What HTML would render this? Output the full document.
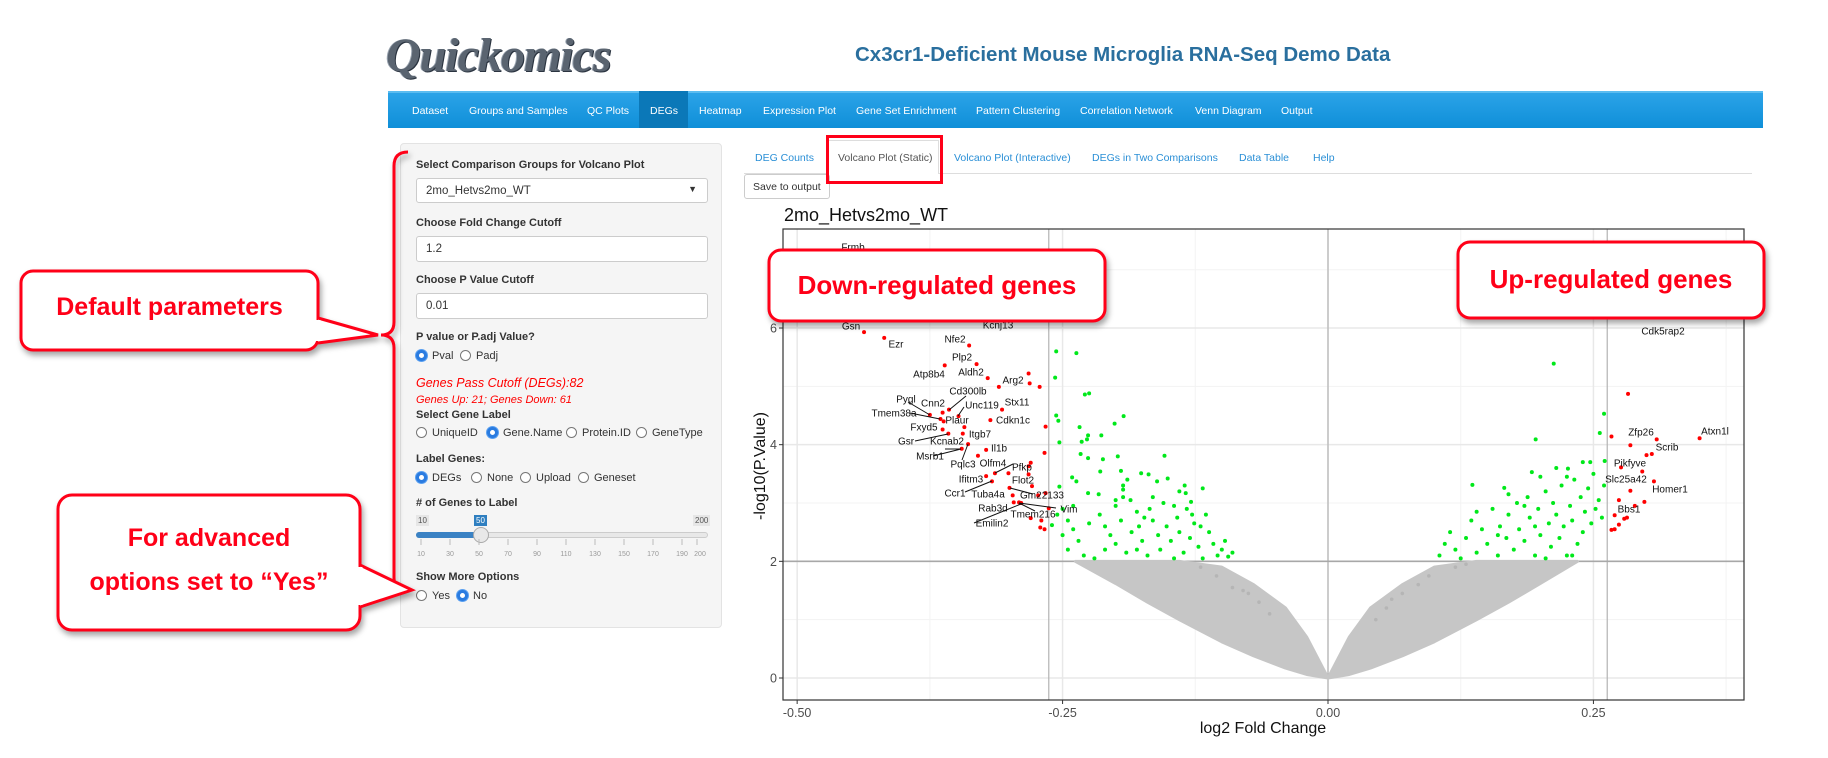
<!DOCTYPE html>
<html><head><meta charset="utf-8">
<style>
*{box-sizing:border-box;margin:0;padding:0}
body{width:1828px;height:758px;background:#fff;position:relative;overflow:hidden;font-family:"Liberation Sans",sans-serif;color:#333}
.abs{position:absolute}
.nav{left:388px;top:91px;width:1375px;height:37px;background:linear-gradient(#2ba3e8,#0f8fd8);border-top:2px solid #5bbcf0}
.nav span{position:absolute;top:12px;font-size:10.5px;color:#fff;white-space:nowrap}
.panel{left:400px;top:143px;width:322px;height:485px;background:#f5f5f5;border:1px solid #e3e3e3;border-radius:4px}
.lbl{position:absolute;left:15px;font-size:11px;font-weight:bold;color:#333;white-space:nowrap}
.inp{position:absolute;left:15px;width:292px;height:26px;background:#fff;border:1px solid #ccc;border-radius:3px;font-size:11.5px;padding:6px 9px}
.rad{position:absolute;font-size:11px;white-space:nowrap;color:#333}
.rad i{display:inline-block;width:11px;height:11px;border:1px solid #777;border-radius:50%;vertical-align:-2px;margin-right:5px;background:#fff}
.rad i.on{border:3px solid #2a7be0;background:#fff;box-shadow:0 0 0 1px #5aa0f0}
.tab{position:absolute;top:152px;font-size:10.5px;color:#2a8fd6;white-space:nowrap}
.call{position:absolute;color:#ff0018;font-weight:bold;text-align:center;white-space:nowrap}
</style></head><body>

<div class="abs" style="left:386px;top:28px;font-family:'Liberation Serif',serif;font-style:italic;font-weight:bold;font-size:48px;color:#5a6470;letter-spacing:-1px;text-shadow:1px 1px 0 #2b3440,-1px 0 0 #9aa4b0">Quickomics</div>
<div class="abs" style="left:855px;top:43px;font-size:20.5px;font-weight:bold;color:#2a6f9e;white-space:nowrap">Cx3cr1-Deficient Mouse Microglia RNA-Seq Demo Data</div>

<div class="abs nav">
<div class="abs" style="left:251px;top:-2px;width:49px;height:37px;background:#0b78b8"></div>
<span style="left:24px">Dataset</span>
<span style="left:81px">Groups and Samples</span>
<span style="left:199px">QC Plots</span>
<span style="left:262px">DEGs</span>
<span style="left:311px">Heatmap</span>
<span style="left:375px">Expression Plot</span>
<span style="left:468px">Gene Set Enrichment</span>
<span style="left:588px">Pattern Clustering</span>
<span style="left:692px">Correlation Network</span>
<span style="left:807px">Venn Diagram</span>
<span style="left:893px">Output</span>
</div>

<div class="abs panel">
<div class="lbl" style="top:15px">Select Comparison Groups for Volcano Plot</div>
<div class="inp" style="top:34px;height:25px">2mo_Hetvs2mo_WT<span style="position:absolute;right:10px;top:5px;font-size:9px">&#9660;</span></div>
<div class="lbl" style="top:73px">Choose Fold Change Cutoff</div>
<div class="inp" style="top:92px">1.2</div>
<div class="lbl" style="top:130px">Choose P Value Cutoff</div>
<div class="inp" style="top:149px">0.01</div>
<div class="lbl" style="top:187px">P value or P.adj Value?</div>
<div class="rad" style="left:15px;top:206px"><i class="on"></i>Pval</div>
<div class="rad" style="left:59px;top:206px"><i></i>Padj</div>
<div class="abs" style="left:15px;top:232px;font-size:12.5px;font-style:italic;color:#ff0000;white-space:nowrap">Genes Pass Cutoff (DEGs):82</div>
<div class="abs" style="left:15px;top:250px;font-size:11px;font-style:italic;color:#ff0000;white-space:nowrap">Genes Up: 21; Genes Down: 61</div>
<div class="lbl" style="top:265px">Select Gene Label</div>
<div class="rad" style="left:15px;top:283px"><i></i>UniqueID</div>
<div class="rad" style="left:86px;top:283px"><i class="on"></i>Gene.Name</div>
<div class="rad" style="left:165px;top:283px"><i></i>Protein.ID</div>
<div class="rad" style="left:235px;top:283px"><i></i>GeneType</div>
<div class="lbl" style="top:309px">Label Genes:</div>
<div class="rad" style="left:15px;top:328px"><i class="on"></i>DEGs</div>
<div class="rad" style="left:70px;top:328px"><i></i>None</div>
<div class="rad" style="left:119px;top:328px"><i></i>Upload</div>
<div class="rad" style="left:177px;top:328px"><i></i>Geneset</div>
<div class="lbl" style="top:353px"># of Genes to Label</div>
<div class="abs" style="left:15px;top:371px;font-size:8px;background:#e6e6e6;padding:1px 2px;color:#555">10</div>
<div class="abs" style="left:73px;top:371px;font-size:8px;background:#2f7fc0;padding:1px 2px;color:#fff">50</div>
<div class="abs" style="left:292px;top:371px;font-size:8px;background:#e6e6e6;padding:1px 2px;color:#555">200</div>
<div class="abs" style="left:15px;top:388px;width:292px;height:6px;border-radius:3px;background:#e8e8e8;border:1px solid #ccc"></div>
<div class="abs" style="left:15px;top:388px;width:65px;height:6px;border-radius:3px;background:#3a82c4"></div>
<div class="abs" style="left:72px;top:383px;width:16px;height:16px;border-radius:50%;background:#e8e8e8;border:1px solid #aaa"></div>
<svg class="abs" style="left:15px;top:395px" width="295" height="20">
<g stroke="#bbb"><line x1="5" y1="0" x2="5" y2="6"/><line x1="34" y1="0" x2="34" y2="6"/><line x1="63" y1="0" x2="63" y2="6"/><line x1="92" y1="0" x2="92" y2="6"/><line x1="121" y1="0" x2="121" y2="6"/><line x1="150" y1="0" x2="150" y2="6"/><line x1="179" y1="0" x2="179" y2="6"/><line x1="208" y1="0" x2="208" y2="6"/><line x1="237" y1="0" x2="237" y2="6"/><line x1="266" y1="0" x2="266" y2="6"/><line x1="281" y1="0" x2="281" y2="6"/></g>
<g font-size="7" fill="#999" text-anchor="middle"><text x="5" y="17">10</text><text x="34" y="17">30</text><text x="63" y="17">50</text><text x="92" y="17">70</text><text x="121" y="17">90</text><text x="150" y="17">110</text><text x="179" y="17">130</text><text x="208" y="17">150</text><text x="237" y="17">170</text><text x="266" y="17">190</text><text x="284" y="17">200</text></g></svg>
<div class="lbl" style="top:427px">Show More Options</div>
<div class="rad" style="left:15px;top:446px"><i></i>Yes</div>
<div class="rad" style="left:56px;top:446px"><i class="on"></i>No</div>
</div>

<div class="abs" style="left:744px;top:173px;width:1008px;height:1px;background:#ddd"></div>
<div class="abs" style="left:827px;top:140px;width:112px;height:34px;border:1px solid #ddd;border-bottom:none;background:#fff"></div>
<span class="tab" style="left:755px">DEG Counts</span>
<span class="tab" style="left:838px;color:#555">Volcano Plot (Static)</span>
<span class="tab" style="left:954px">Volcano Plot (Interactive)</span>
<span class="tab" style="left:1092px">DEGs in Two Comparisons</span>
<span class="tab" style="left:1239px">Data Table</span>
<span class="tab" style="left:1313px">Help</span>
<div class="abs" style="left:744px;top:174px;width:86px;height:25px;border:1px solid #ccc;border-radius:3px;font-size:10.5px;padding:6px 8px;white-space:nowrap;background:#fff">Save to output</div>
<div class="abs" style="left:826px;top:135px;width:117px;height:49px;border:3px solid #ff0018"></div>
<div class="abs" style="left:784px;top:205px;font-size:18px;color:#111;white-space:nowrap">2mo_Hetvs2mo_WT</div>

<svg id="chart" class="abs" style="left:0;top:0" width="1828" height="758"></svg>

<svg class="abs" style="left:0;top:0;filter:drop-shadow(2px 4px 3px rgba(0,0,0,0.35))" width="1828" height="758">
<path d="M408,152 Q394,152 394,166 L394,322 Q394,335 381,335 Q394,335 394,348 L394,578 Q394,590 408,590" fill="none" stroke="#ff0018" stroke-width="3"/>
<g><rect x="21" y="271" width="297" height="79" rx="12" fill="#fff" stroke="#ff0018" stroke-width="3"/><path d="M318,318 L378,335 L318,343" fill="#fff" stroke="#ff0018" stroke-width="3"/><line x1="318" y1="320" x2="318" y2="341" stroke="#fff" stroke-width="5"/></g>
<g><rect x="58" y="495" width="302" height="135" rx="14" fill="#fff" stroke="#ff0018" stroke-width="3"/><path d="M360,565 L412,590 L360,607" fill="#fff" stroke="#ff0018" stroke-width="3"/><line x1="360" y1="567" x2="360" y2="605" stroke="#fff" stroke-width="5"/></g>
<rect x="769" y="250" width="336" height="71" rx="12" fill="#fff" stroke="#ff0018" stroke-width="3"/>
<rect x="1458" y="242" width="306" height="76" rx="12" fill="#fff" stroke="#ff0018" stroke-width="3"/>
</svg>
<div class="call" style="left:21px;top:293px;width:297px;font-size:25px">Default parameters</div>
<div class="call" style="left:58px;top:516px;width:302px;font-size:25px;line-height:44px">For advanced<br>options set to “Yes”</div>
<div class="call" style="left:769px;top:270px;width:336px;font-size:26px">Down-regulated genes</div>
<div class="call" style="left:1458px;top:264px;width:306px;font-size:26px">Up-regulated genes</div>

<script>
// ---- chart data ----
const xTicks = [-0.5, -0.25, 0, 0.25];
const xTickLabels = ["-0.50", "-0.25", "0.00", "0.25"];
const yTicks = [0, 2, 4, 6];
const yTickLabels = ["0", "2", "4", "6"];
const fcCutoff = 0.263;
const pCutoff = 2;
const cloudLeftX = [-0.238, -0.2, -0.17, -0.14, -0.1, -0.07, -0.04, -0.02, 0];
const cloudLeftLow = [2.0, 1.62, 1.3, 1.0, 0.62, 0.38, 0.17, 0.06, 0];
const cloudLeftHigh = [2.0, 2.0, 2.0, 2.0, 1.9, 1.6, 1.2, 0.7, 0];
const cloudRightX = [0, 0.02, 0.04, 0.07, 0.1, 0.14, 0.17, 0.2, 0.235];
const cloudRightLow = [0, 0.06, 0.17, 0.38, 0.62, 1.0, 1.3, 1.62, 2.0];
const cloudRightHigh = [0, 0.7, 1.2, 1.6, 1.9, 2.0, 2.0, 2.0, 2.0];
const grayX = [-0.12, -0.105, -0.09, -0.08, -0.075, -0.065, -0.055, 0.045, 0.055, 0.06, 0.07, 0.085, 0.095, 0.12, 0.13];
const grayY = [1.9, 1.75, 1.55, 1.5, 1.45, 1.3, 1.1, 1.0, 1.2, 1.35, 1.45, 1.6, 1.75, 1.9, 1.95];
const greenX = [-0.256,-0.237,-0.257,-0.229,-0.225,-0.256,-0.254,-0.1925,-0.201,-0.234,-0.253,-0.232,-0.227,-0.226,-0.2135,-0.233,-0.226,-0.212,-0.198,-0.154,-0.2145,-0.195,-0.241,-0.237,-0.176,-0.169,-0.189,-0.151,-0.161,-0.193,-0.193,-0.118,-0.226,-0.216,-0.134,-0.129,-0.193,-0.253,
-0.25,-0.255,-0.245,-0.26,-0.24,-0.25,-0.235,-0.245,-0.23,-0.22,-0.215,-0.21,-0.205,-0.2,-0.2,-0.195,-0.19,-0.185,-0.18,-0.178,-0.175,-0.17,-0.168,-0.165,-0.16,-0.158,-0.155,-0.152,-0.148,-0.145,-0.142,-0.14,-0.136,-0.133,-0.13,-0.126,-0.122,-0.118,-0.115,-0.112,-0.108,-0.104,-0.1,-0.097,-0.094,-0.09,-0.186,-0.173,-0.21,-0.225,-0.145,-0.128,-0.2,-0.165,-0.14,-0.24,-0.18,-0.12,-0.135,
0.2126,0.1956,0.26,0.256,0.247,0.2606,0.192,0.226,0.136,0.166,
0.105,0.11,0.115,0.12,0.125,0.13,0.135,0.14,0.145,0.15,0.155,0.16,0.162,0.168,0.17,0.175,0.178,0.18,0.185,0.188,0.19,0.195,0.198,0.2,0.205,0.208,0.21,0.212,0.215,0.218,0.22,0.222,0.225,0.228,0.23,0.232,0.235,0.238,0.24,0.242,0.245,0.248,0.25,0.252,0.255,0.258,0.26,0.185,0.17,0.2,0.215,0.16,0.195,0.23,0.14,0.205,0.24,0.225];
const greenY = [5.60,5.57,5.15,4.86,4.88,4.50,4.41,4.49,4.36,4.30,4.04,4.05,4.09,4.16,4.16,3.84,3.77,3.75,3.80,3.81,3.54,3.55,3.44,3.37,3.51,3.49,3.40,3.42,3.37,3.30,3.23,3.25,3.17,3.15,3.17,3.02,3.10,3.28,
2.9,2.8,2.7,2.62,2.55,2.45,2.35,2.2,2.1,2.05,2.8,2.6,2.45,2.3,2.95,2.7,2.15,2.5,2.85,2.6,2.35,2.1,2.9,2.7,2.45,2.2,3.0,2.6,2.35,2.05,2.75,2.5,2.15,2.9,2.4,2.65,2.25,2.05,2.8,2.5,2.3,2.1,2.2,2.35,2.08,2.15,3.05,2.75,2.2,2.65,2.95,2.8,3.05,3.1,3.2,2.95,2.2,2.6,3.3,
5.39,4.09,4.53,4.20,3.70,3.72,3.53,3.59,3.31,3.26,
2.1,2.3,2.5,2.2,2.05,2.4,2.7,2.15,2.55,2.3,2.9,2.1,2.6,2.4,2.8,2.2,3.0,2.55,2.35,3.1,2.75,2.1,2.9,2.45,3.2,2.65,2.25,3.0,2.8,2.4,3.3,2.6,2.1,2.95,2.7,3.4,2.3,3.1,2.5,2.85,3.25,2.65,3.5,2.9,3.05,2.75,3.3,2.95,3.15,3.45,3.6,2.45,2.6,2.1,2.85,2.05,3.7,3.45];
const redX = [-0.437,-0.418,-0.338,-0.331,-0.361,-0.3205,-0.282,-0.281,-0.310,-0.2716,-0.357,-0.307,-0.363,-0.375,-0.348,-0.365,-0.362,-0.318,-0.266,-0.363,-0.3425,-0.344,-0.3576,-0.339,-0.345,-0.322,-0.267,-0.3297,-0.280,-0.282,-0.282,-0.3137,-0.301,-0.322,-0.3165,-0.2788,-0.300,-0.297,-0.273,-0.266,-0.296,-0.291,-0.289,-0.263,-0.280,-0.270,-0.271,-0.267,
0.2826,0.267,0.3096,0.350,0.2848,0.305,0.300,0.276,0.296,0.307,0.2848,0.274,0.298,0.289,0.270,0.2816,0.279,0.274,0.270,0.267];
const redY = [5.93,5.83,5.70,5.38,5.36,5.14,5.22,5.05,4.99,4.99,4.60,4.60,4.55,4.51,4.49,4.44,4.40,4.42,4.31,4.26,4.30,4.19,4.19,4.01,3.93,3.91,3.86,3.81,3.69,3.63,3.49,3.51,3.51,3.46,3.37,3.29,3.26,3.13,3.13,3.17,3.01,3.01,3.00,2.91,2.74,2.70,2.58,2.55,
4.87,4.14,4.09,4.11,3.99,3.84,3.82,3.61,3.54,3.37,3.21,3.05,3.02,2.95,2.79,2.75,2.73,2.63,2.55,2.54];
const geneNames = ["Frmb","Gsn","Ezr","Nfe2","Kcnj13","Plp2","Atp8b4","Aldh2","Arg2","Cd300lb","Pygl","Cnn2","Unc119","Stx11","Tmem38a","Plaur","Cdkn1c","Fxyd5","Itgb7","Gsr","Kcnab2","Il1b","Msrb1","Pqlc3","Olfm4","Pfkp","Ifitm3","Flot2","Ccr1","Tuba4a","Gm22133","Rab3d","Vim","Tmem216","Emilin2","Cdk5rap2","Zfp26","Atxn1l","Scrib","Pikfyve","Slc25a42","Homer1","Bbs1"];
// label placement (layout, pixels)
const labelPX = [853,851,896,955,998,962,929,971,1013,968,906,933,982,1017,894,957,1013,924,980,906,947,999,930,963,993,1022,971,1023,955,988,1042,993,1069,1033,992,1663,1641,1715,1667,1630,1626,1670,1629];
const labelPY = [247,326,344,339,325,357,374,372,380,391,399,403,405,402,413,420,420,427,434,441,441,448,456,464,463,467,479,480,493,494,495,508,509,514,523,331,432,431,447,463,479,489,509];
const leaders = [[908,402,930,415],[910,413,940,419],[966,396,949,410],[964,407,958,416],[915,441,948,434],[945,449,961,449],[933,456,961,449],[962,460,968,444],[1013,464,995,473],[965,492,992,481],[1033,494,1010,488],[1056,508,1019,503],[1035,511,1019,503],[974,523,1021,504]];

const NS = "http://www.w3.org/2000/svg";
const svg = document.getElementById("chart");
const L = 783, R = 1744, T = 229, B = 700;
function sx(v){ return 1328 + v * 1061.7; }
function sy(v){ return 678 - v * 58.33; }
function el(tag, attrs, parent){ const e = document.createElementNS(NS, tag); for (const k in attrs) e.setAttribute(k, attrs[k]); (parent || svg).appendChild(e); return e; }

const clip = el("clipPath", {id: "pc"});
el("rect", {x: L, y: T, width: R - L, height: B - T}, clip);
const bg = el("rect", {x: L, y: T, width: R - L, height: B - T, fill: "#fff"});


for (let i = 0; i < xTicks.length; i++) {
  const m = xTicks[i] + 0.125;
  const g = el("line", {x1: sx(m), x2: sx(m), y1: T, y2: B, stroke: "#f3f3f3", "stroke-width": 1});
  
  
}
for (let i = 0; i < yTicks.length; i++) {
  const m = yTicks[i] + 1;
  const g = el("line", {x1: L, x2: R, y1: sy(m), y2: sy(m), stroke: "#f3f3f3", "stroke-width": 1});
  
  
}
for (let i = 0; i < xTicks.length; i++) {
  const g = el("line", {x1: sx(xTicks[i]), x2: sx(xTicks[i]), y1: T, y2: B, stroke: "#e8e8e8", "stroke-width": 1.5});
  
  
  const tk = el("line", {x1: sx(xTicks[i]), x2: sx(xTicks[i]), y1: B, y2: B + 4, stroke: "#333"});
  
  
  const t = el("text", {x: sx(xTicks[i]), y: B + 17, "font-size": 12.5, fill: "#4d4d4d", "text-anchor": "middle", "font-family": "Liberation Sans, sans-serif"});
  t.textContent = xTickLabels[i];
  
  
}
for (let i = 0; i < yTicks.length; i++) {
  const g = el("line", {x1: L, x2: R, y1: sy(yTicks[i]), y2: sy(yTicks[i]), stroke: "#e8e8e8", "stroke-width": 1.5});
  
  
  const tk = el("line", {x1: L - 4, x2: L, y1: sy(yTicks[i]), y2: sy(yTicks[i]), stroke: "#333"});
  
  
  const t = el("text", {x: L - 6, y: sy(yTicks[i]) + 4.5, "font-size": 12.5, fill: "#4d4d4d", "text-anchor": "end", "font-family": "Liberation Sans, sans-serif"});
  t.textContent = yTickLabels[i];
  
  
}
[-fcCutoff, 0, fcCutoff].forEach(v => {
  const c = el("line", {x1: sx(v), x2: sx(v), y1: T, y2: B, stroke: "#b3b3b3", "stroke-width": 1.2});
  
  
});
const hc = el("line", {x1: L, x2: R, y1: sy(pCutoff), y2: sy(pCutoff), stroke: "#a8a8a8", "stroke-width": 1.6});



const pg = el("g", {"clip-path": "url(#pc)"});
function cloud(xs, lo, hi, name){
  let pts = [];
  for (let i = 0; i < xs.length; i++) pts.push(sx(xs[i]) + "," + sy(lo[i]));
  for (let i = xs.length - 1; i >= 0; i--) pts.push(sx(xs[i]) + "," + sy(hi[i]));
  const p = el("polygon", {points: pts.join(" "), fill: "#c6c6c6", stroke: "#c6c6c6", "stroke-width": 3, "stroke-linejoin": "round"}, pg);
  
  
}
cloud(cloudLeftX, cloudLeftLow, cloudLeftHigh, 'nonsig-cloud-left');
cloud(cloudRightX, cloudRightLow, cloudRightHigh, 'nonsig-cloud-right');
for (let i = 0; i < grayX.length; i++) {
  const c = el("circle", {cx: sx(grayX[i]), cy: sy(grayY[i]), r: 1.8, fill: "#b5b5b5"}, pg);
  
  
}
for (let i = 0; i < greenX.length; i++) {
  const c = el("circle", {cx: sx(greenX[i]), cy: sy(greenY[i]), r: 2, fill: "#00e81a"}, pg);
  
  
}
for (let i = 0; i < redX.length; i++) {
  const c = el("circle", {cx: sx(redX[i]), cy: sy(redY[i]), r: 2, fill: "#ff0000"}, pg);
  
  
}
for (let i = 0; i < leaders.length; i++) {
  const a = leaders[i];
  const l = el("line", {x1: a[0], y1: a[1], x2: a[2], y2: a[3], stroke: "#111", "stroke-width": 1});
  
  
}
for (let i = 0; i < geneNames.length; i++) {
  const t = el("text", {x: labelPX[i], y: labelPY[i] + 3.5, "font-size": 10, fill: "#111", "text-anchor": "middle", "font-family": "Liberation Sans, sans-serif"});
  t.textContent = geneNames[i];
  
  
}
const fr = el("rect", {x: L, y: T, width: R - L, height: B - T, fill: "none", stroke: "#333", "stroke-width": 1.2});


const xt = el("text", {x: 1263, y: 733, "font-size": 16, fill: "#111", "text-anchor": "middle", "font-family": "Liberation Sans, sans-serif"});
xt.textContent = "log2 Fold Change";


const yt = el("text", {x: 0, y: 0, "font-size": 16, fill: "#111", "text-anchor": "middle", "font-family": "Liberation Sans, sans-serif", transform: "translate(765,466) rotate(-90)"});
yt.textContent = "-log10(P.Value)";


</script>
</body></html>
